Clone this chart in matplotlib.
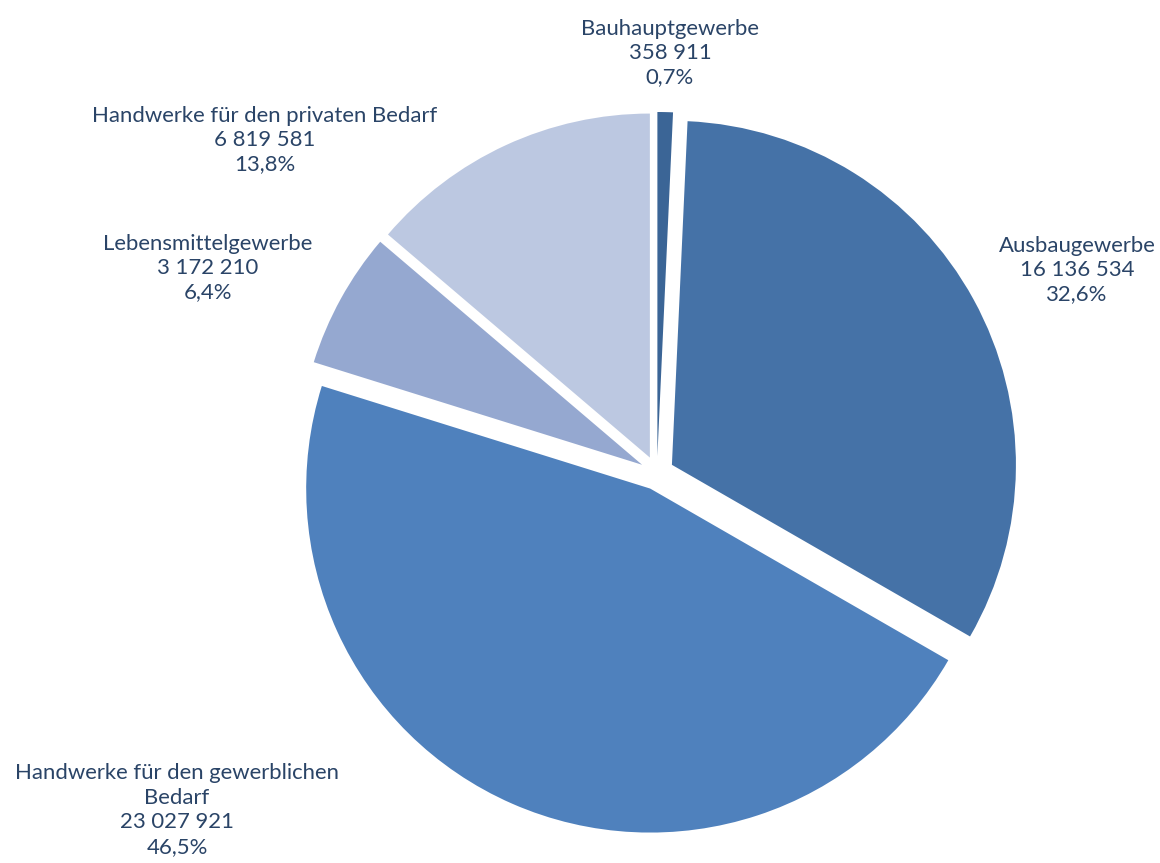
import matplotlib.pyplot as plt

# Daten
Gewerbe = ['Bauhauptgewerbe', 'Ausbaugewerbe', 'Handwerke für den gewerblichen\nBedarf',
           'Lebensmittelgewerbe', 'Handwerke für den privaten Bedarf']
Werte = [358911, 16136534, 23027921, 3172210, 6819581]
Farben = ['#3b6596', '#4572a7', '#4f81bd', '#95a8d0', '#bcc8e1']

# Positionen der Beschriftungen (Pixel, y nach oben)
Label_x = [670, 1077, 177, 208, 265]
Label_y = [810, 593, 53, 595, 723]

plt.rcParams['font.family'] = ['Lato', 'DejaVu Sans']

fig = plt.figure(figsize=(11.6, 8.63), dpi=100)
ax = fig.add_axes([0, 0, 1, 1])

ax.pie(Werte, colors=Farben, startangle=90, counterclock=False,
       center=(657, 390), radius=344, explode=[17] * len(Werte),
       wedgeprops={'linewidth': 0})

ax.set_xlim(0, 1160)
ax.set_ylim(0, 863)
ax.set_aspect('equal')
ax.axis('off')

summe = sum(Werte)
for name, v, x, y in zip(Gewerbe, Werte, Label_x, Label_y):
    zahl = f'{v:,}'.replace(',', ' ')
    proz = f'{v / summe * 100:.1f}%'.replace('.', ',')
    ax.text(x, y, name + '\n' + zahl + '\n' + proz, ha='center', va='center',
            fontsize=15.9, color='#2a4467', linespacing=1.28)

fig.savefig('out.png', dpi=100)
